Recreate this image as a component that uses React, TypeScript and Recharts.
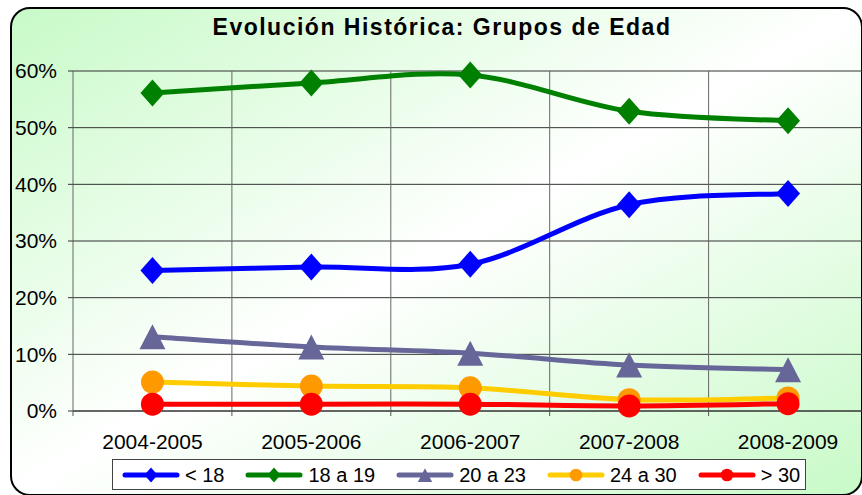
import React from 'react';
import { LineChart, Line, XAxis, YAxis, CartesianGrid, Legend } from 'recharts';

const categories = ['2004-2005', '2005-2006', '2006-2007', '2007-2008', '2008-2009'];
const under18 = [24.8, 25.4, 25.9, 36.4, 38.4];
const age18to19 = [56.1, 57.9, 59.3, 52.9, 51.2];
const age20to23 = [13.1, 11.3, 10.2, 8.1, 7.3];
const age24to30 = [5.1, 4.4, 4.1, 2.0, 2.3];
const over30 = [1.2, 1.2, 1.2, 0.9, 1.3];
const yTicks = [0, 10, 20, 30, 40, 50, 60];
const seriesNames = ['< 18', '18 a 19', '20 a 23', '24 a 30', '> 30'];

type Shape = 'diamond' | 'triangle' | 'circle';
interface SeriesDef { key: string; name: string; line: string; marker: string; shape: Shape; values: number[] }

const SERIES: SeriesDef[] = [
  { key: 's1', name: seriesNames[0], line: '#0000FF', marker: '#0000FF', shape: 'diamond', values: under18 },
  { key: 's2', name: seriesNames[1], line: '#008000', marker: '#008000', shape: 'diamond', values: age18to19 },
  { key: 's3', name: seriesNames[2], line: '#666699', marker: '#666699', shape: 'triangle', values: age20to23 },
  { key: 's4', name: seriesNames[3], line: '#FFCC00', marker: '#FF9900', shape: 'circle', values: age24to30 },
  { key: 's5', name: seriesNames[4], line: '#FF0000', marker: '#FF0000', shape: 'circle', values: over30 },
];

const data = categories.map((cat, i) => {
  const row: Record<string, string | number> = { cat };
  SERIES.forEach((s) => { row[s.key] = s.values[i]; });
  return row;
});

// Excel-like smoothing (Catmull-Rom as cubic Bezier)
function excelSmooth(context: any) {
  let pts: [number, number][] = [];
  return {
    areaStart() {},
    areaEnd() {},
    lineStart() { pts = []; },
    lineEnd() {
      const n = pts.length;
      if (!n) return;
      context.moveTo(pts[0][0], pts[0][1]);
      for (let i = 0; i < n - 1; i++) {
        const p0 = pts[i - 1] || pts[i];
        const p1 = pts[i];
        const p2 = pts[i + 1];
        const p3 = pts[i + 2] || p2;
        context.bezierCurveTo(
          p1[0] + (p2[0] - p0[0]) / 6, p1[1] + (p2[1] - p0[1]) / 6,
          p2[0] - (p3[0] - p1[0]) / 6, p2[1] - (p3[1] - p1[1]) / 6,
          p2[0], p2[1]
        );
      }
    },
    point(x: number, y: number) { pts.push([+x, +y]); },
  };
}

function markerEl(shape: Shape, cx: number, cy: number, color: string, scale: number, key?: string) {
  if (shape === 'diamond') {
    const w = 12 * scale, h = 13.5 * scale;
    return <path key={key} d={`M${cx},${cy - h}L${cx + w},${cy}L${cx},${cy + h}L${cx - w},${cy}Z`} fill={color} />;
  }
  if (shape === 'triangle') {
    const w = 13 * scale, h = 12.5 * scale;
    return <path key={key} d={`M${cx},${cy - h}L${cx + w},${cy + h}L${cx - w},${cy + h}Z`} fill={color} />;
  }
  return <circle key={key} cx={cx} cy={cy} r={11.5 * scale} fill={color} />;
}

const makeDot = (s: SeriesDef) => (props: any) => {
  const { cx, cy, index } = props;
  if (cx == null || cy == null) return <g key={`${s.key}-d-${index}`} />;
  return markerEl(s.shape, cx, cy, s.marker, 1, `${s.key}-d-${index}`);
};

const FONT = '"Liberation Sans", Arial, sans-serif';
const CHART_W = 880;
const PLOT_LEFT = 73;
const PLOT_RIGHT_MARGIN = 12.5;
const PLOT_W = CHART_W - PLOT_LEFT - PLOT_RIGHT_MARGIN;
const BAND = PLOT_W / categories.length;

const XTick = (props: any) => {
  const { x, y, payload, index } = props;
  const last = index === categories.length - 1;
  return (
    <g>
      <line x1={x - BAND / 2} x2={x - BAND / 2} y1={y} y2={y + 5} stroke="#555" strokeWidth={1} />
      {last && <line x1={x + BAND / 2} x2={x + BAND / 2} y1={y} y2={y + 5} stroke="#555" strokeWidth={1} />}
      <text x={x} y={y + 38} textAnchor="middle" fontSize={21} fontFamily={FONT} fill="#000">
        {payload.value}
      </text>
    </g>
  );
};

const LegendContent = () => (
  <div
    style={{
      boxSizing: 'border-box', width: 694, height: 31, border: '1px solid #444', background: '#fff',
      display: 'flex', alignItems: 'center', paddingLeft: 9, fontFamily: FONT, fontSize: 20, color: '#000',
      whiteSpace: 'nowrap',
    }}
  >
    {SERIES.map((s) => (
      <div key={s.key} style={{ display: 'flex', alignItems: 'center', marginRight: 21 }}>
        <svg width={58} height={22} style={{ display: 'block' }}>
          <line x1={3} x2={55} y1={11} y2={11} stroke={s.line} strokeWidth={5} strokeLinecap="round" />
          {markerEl(s.shape, 29, 11, s.marker, 0.55)}
        </svg>
        <span style={{ marginLeft: 5, lineHeight: '22px' }}>{s.name}</span>
      </div>
    ))}
  </div>
);

export default function App() {
  return (
    <div style={{ position: 'fixed', left: 0, top: 0, width: 862, height: 495, overflow: 'hidden', background: '#fff', fontFamily: FONT }}>
      <div
        style={{
          position: 'absolute', left: 10, top: 7, width: 853, height: 489, boxSizing: 'border-box',
          border: '2px solid #000', borderRadius: 20,
          background: 'linear-gradient(to bottom right, #c8fac8 0%, #ffffff 50%, #c8fac8 100%)',
        }}
      />
      <div
        style={{
          position: 'absolute', left: 0, top: 16, width: 884, textAlign: 'center', fontSize: 23, lineHeight: '23px',
          fontWeight: 'bold', letterSpacing: 1.5, color: '#000',
        }}
      >
        Evolución Histórica: Grupos de Edad
      </div>
      <div style={{ position: 'absolute', left: 0, top: 0 }}>
        <LineChart
          width={CHART_W}
          height={495}
          data={data}
          margin={{ top: 71, right: PLOT_RIGHT_MARGIN, bottom: 54, left: 0 }}
        >
          <CartesianGrid vertical={false} stroke="#333" strokeWidth={1} />
          <CartesianGrid
            horizontal={false}
            stroke="#666"
            strokeWidth={1}
            verticalCoordinatesGenerator={({ offset }: any) =>
              [1, 2, 3, 4, 5].map((k) => offset.left + (k * offset.width) / categories.length)
            }
          />
          <XAxis
            dataKey="cat"
            height={30}
            padding={{ left: BAND / 2, right: BAND / 2 }}
            axisLine={{ stroke: '#333', strokeWidth: 1 }}
            tickLine={false}
            tickSize={0}
            tickMargin={0}
            tick={<XTick />}
            interval={0}
          />
          <YAxis
            width={PLOT_LEFT}
            domain={[0, 60]}
            ticks={yTicks}
            tickFormatter={(v: number) => `${v}%`}
            axisLine={{ stroke: '#666', strokeWidth: 1 }}
            tickLine={{ stroke: '#333', strokeWidth: 1 }}
            tickSize={5}
            tickMargin={11}
            tick={{ fontSize: 21, fontFamily: FONT, fill: '#000' }}
            interval={0}
          />
          <Legend
            layout="horizontal"
            verticalAlign="middle"
            align="center"
            content={<LegendContent />}
            wrapperStyle={{ left: 112, top: 459, width: 694, height: 31 }}
          />
          {SERIES.map((s) => (
            <Line
              key={s.key}
              dataKey={s.key}
              name={s.name}
              type={excelSmooth as any}
              stroke={s.line}
              strokeWidth={5}
              dot={makeDot(s)}
              activeDot={false}
              isAnimationActive={false}
            />
          ))}
        </LineChart>
      </div>
    </div>
  );
}
